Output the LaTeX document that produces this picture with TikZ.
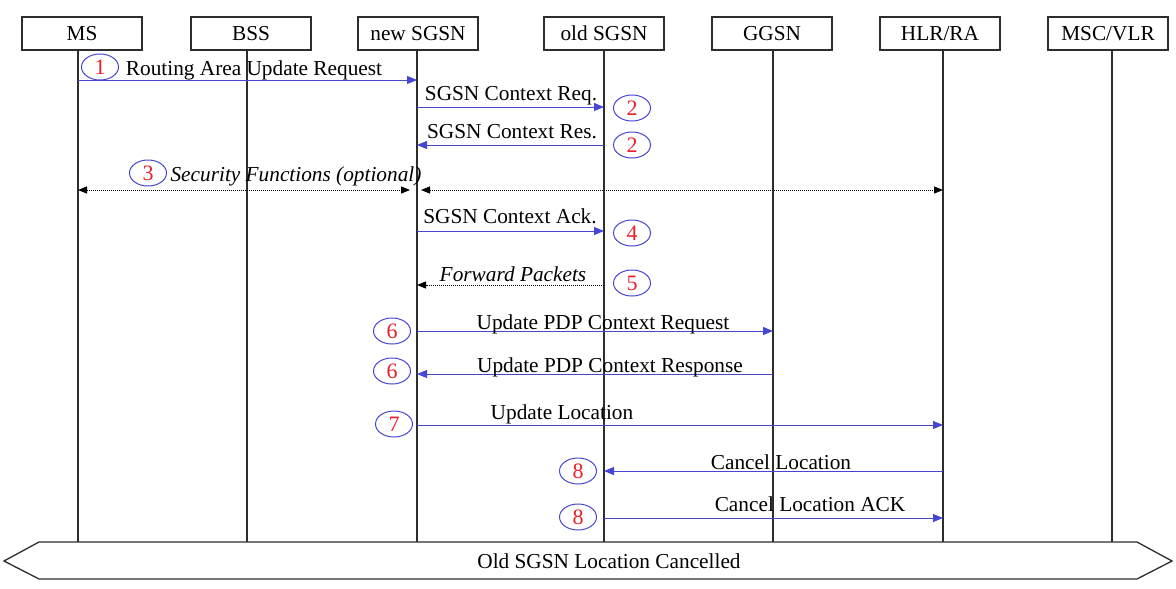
\documentclass[tikz,border=0pt]{standalone}
\usepackage{fontspec}
\setmainfont{Liberation Serif}
\usetikzlibrary{arrows.meta,shapes.geometric}
\definecolor{msgblue}{RGB}{70,70,210}
\definecolor{numred}{RGB}{235,30,40}
\definecolor{linegray}{RGB}{45,45,45}
\begin{document}
\begin{tikzpicture}[x=1pt,y=-1pt,
  every node/.style={font=\fontsize{21.3}{25}\selectfont, inner sep=0pt},
  actor/.style={draw=linegray, line width=1.3pt, minimum width=120pt, minimum height=33pt, fill=white},
  life/.style={draw=linegray, line width=1.3pt},
  msg/.style={draw=msgblue, line width=1pt, -{Triangle[length=10pt,width=8pt]}},
  dmsg/.style={draw=black, line width=0.9pt, dash pattern=on 1pt off 1pt, {Triangle[length=9pt,width=7pt]}-{Triangle[length=9pt,width=7pt]}},
  dmsgl/.style={draw=black, line width=0.9pt, dash pattern=on 1pt off 1pt, -{Triangle[length=9pt,width=7pt]}},
  num/.style={ellipse, draw=msgblue, line width=1pt, minimum width=37pt, minimum height=26pt, text=numred, font=\fontsize{22}{25}\selectfont},
  lbl/.style={anchor=base},
  ilbl/.style={anchor=base, font=\fontsize{21.3}{25}\selectfont\itshape},
]
\useasboundingbox (0,0) rectangle (1176,589);
% lifeline x positions
\coordinate (xMS) at (78,0);
\coordinate (xBSS) at (247,0);
\coordinate (xNEW) at (417,0);
\coordinate (xOLD) at (604,0);
\coordinate (xGGSN) at (773,0);
\coordinate (xHLR) at (943,0);
\coordinate (xMSC) at (1112,0);
\coordinate (bTop) at (0,542);
% headers
\node[actor] (hMS) at (82,33.5) {MS};
\node[actor] (hBSS) at (251,33.5) {BSS};
\node[actor] (hNEW) at (418,33.5) {new SGSN};
\node[actor] (hOLD) at (604,33.5) {old SGSN};
\node[actor] (hGGSN) at (772,33.5) {GGSN};
\node[actor] (hHLR) at (940,33.5) {HLR/RA};
\node[actor] (hMSC) at (1108,33.5) {MSC/VLR};
% lifelines
\foreach \n/\h in {MS/hMS,BSS/hBSS,NEW/hNEW,OLD/hOLD,GGSN/hGGSN,HLR/hHLR,MSC/hMSC}
  \draw[life] (x\n |- \h.south) -- (x\n |- bTop);
% message rows
\coordinate (y1) at (0,80);
\coordinate (y2a) at (0,107);
\coordinate (y2b) at (0,145);
\coordinate (y3) at (0,190);
\coordinate (y4) at (0,231);
\coordinate (y5) at (0,285);
\coordinate (y6a) at (0,331);
\coordinate (y6b) at (0,374);
\coordinate (y7) at (0,425);
\coordinate (y8a) at (0,471);
\coordinate (y8b) at (0,518);
\coordinate (s3a) at (410,190);
\coordinate (s3b) at (421,190);
% messages
\draw[msg] (xMS |- y1) -- (xNEW |- y1);
\draw[msg] (xNEW |- y2a) -- (xOLD |- y2a);
\draw[msg] (xOLD |- y2b) -- (xNEW |- y2b);
\draw[dmsg] (xMS |- y3) -- (s3a);
\draw[dmsg] (s3b) -- (xHLR |- y3);
\draw[msg] (xNEW |- y4) -- (xOLD |- y4);
\draw[dmsgl] (xOLD |- y5) -- (xNEW |- y5);
\draw[msg] (xNEW |- y6a) -- (xGGSN |- y6a);
\draw[msg] (xGGSN |- y6b) -- (xNEW |- y6b);
\draw[msg] (xNEW |- y7) -- (xHLR |- y7);
\draw[msg] (xHLR |- y8a) -- (xOLD |- y8a);
\draw[msg] (xOLD |- y8b) -- (xHLR |- y8b);
% labels
\node[lbl] (t1) at (254,75) {Routing Area Update Request};
\node[lbl] (t2a) at (511,100) {SGSN Context Req.};
\node[lbl] (t2b) at (512,138) {SGSN Context Res.};
\node[ilbl] (t3) at (296,181) {Security Functions (optional)};
\node[lbl] (t4) at (510,223) {SGSN Context Ack.};
\node[ilbl] (t5) at (513,281) {Forward Packets};
\node[lbl] (t6a) at (603,329) {Update PDP Context Request};
\node[lbl] (t6b) at (610,372) {Update PDP Context Response};
\node[lbl] (t7) at (562,419) {Update Location};
\node[lbl] (t8a) at (781,469) {Cancel Location};
\node[lbl] (t8b) at (810,511) {Cancel Location ACK};
% step numbers
\node[num] (n1) at (100,67) {1};
\node[num] (n2a) at (632,108) {2};
\node[num] (n2b) at (632,145) {2};
\node[num] (n3) at (148,173) {3};
\node[num] (n4) at (632,233) {4};
\node[num] (n5) at (632,283) {5};
\node[num] (n6a) at (392,331) {6};
\node[num] (n6b) at (392,371) {6};
\node[num] (n7) at (394,424) {7};
\node[num] (n8a) at (578,471) {8};
\node[num] (n8b) at (578,517) {8};
% banner
\draw[draw=linegray, line width=1.3pt] (4,561) -- (39,542) -- (1137,542) -- (1172,561) -- (1137,579) -- (39,579) -- cycle;
\node (banner) at (609,561) {Old SGSN Location Cancelled};
\end{tikzpicture}
\end{document}
